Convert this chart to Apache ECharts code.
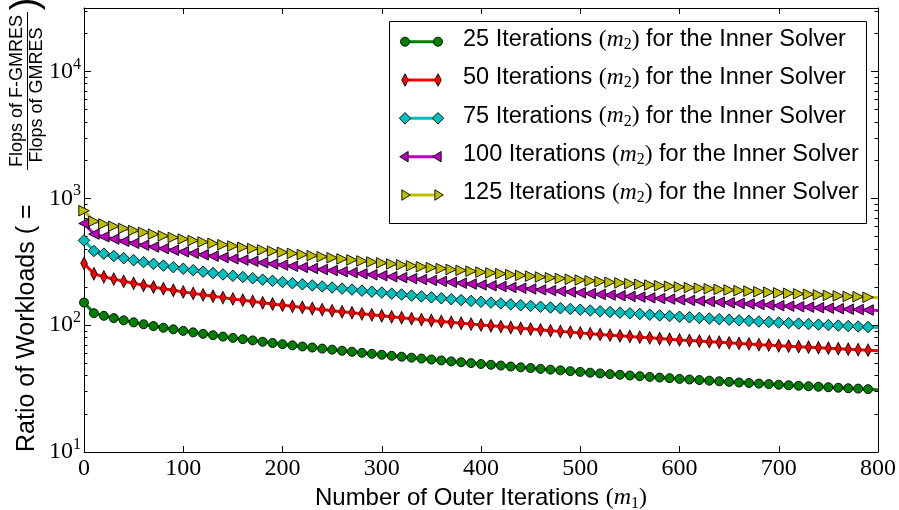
<!DOCTYPE html>
<html>
<head>
<meta charset="utf-8">
<script src="https://cdn.jsdelivr.net/npm/echarts@6/dist/echarts.min.js"></script>
<style>
  html, body { margin: 0; padding: 0; background: #ffffff; }
  #chart { width: 899px; height: 510px; }
</style>
</head>
<body>
<div id="chart"></div>
<script>
// Outer iteration counts (m1) sampled every 10 iterations
const outerIters = [
  0, 10, 20, 30, 40, 50, 60, 70, 80, 90,
  100, 110, 120, 130, 140, 150, 160, 170, 180, 190,
  200, 210, 220, 230, 240, 250, 260, 270, 280, 290,
  300, 310, 320, 330, 340, 350, 360, 370, 380, 390,
  400, 410, 420, 430, 440, 450, 460, 470, 480, 490,
  500, 510, 520, 530, 540, 550, 560, 570, 580, 590,
  600, 610, 620, 630, 640, 650, 660, 670, 680, 690,
  700, 710, 720, 730, 740, 750, 760, 770, 780, 790,
  800
];

// Workload ratio (flops of F-GMRES / flops of GMRES) per inner-iteration count m2
const ratioInner25 = [
  150.7, 124.3, 118.4, 113.6, 109.1, 105.2, 101.6, 98.4, 95.4, 92.7,
  90.1, 87.7, 85.4, 83.3, 81.2, 79.3, 77.5, 75.8, 73.9, 72.3,
  70.8, 69.3, 67.9, 66.6, 65.3, 64.1, 62.8, 61.7, 60.5, 59.4,
  58.4, 57.3, 56.4, 55.4, 54.5, 53.6, 52.7, 51.8, 51.0, 50.2,
  49.4, 48.7, 48.0, 47.2, 46.5, 45.9, 45.2, 44.6, 44.0, 43.4,
  42.8, 42.2, 41.6, 41.1, 40.6, 40.1, 39.6, 39.1, 38.6, 38.2,
  37.7, 37.3, 36.9, 36.5, 36.1, 35.7, 35.3, 35.0, 34.6, 34.3,
  33.9, 33.6, 33.3, 33.0, 32.7, 32.4, 32.1, 31.8, 31.6, 31.3,
  31.0
];
const ratioInner50 = [
  307.0, 254.0, 240.4, 230.6, 221.5, 213.6, 206.2, 199.8, 193.7, 188.2,
  182.9, 178.0, 173.4, 169.1, 164.8, 161.0, 157.3, 153.9, 150.0, 146.8,
  143.7, 140.7, 137.8, 135.2, 132.6, 130.1, 127.5, 125.3, 122.8, 120.6,
  118.6, 116.3, 114.5, 112.5, 110.6, 108.8, 107.0, 105.2, 103.5, 101.9,
  100.3, 98.9, 97.4, 95.8, 94.4, 93.2, 91.8, 90.5, 89.3, 88.1,
  86.9, 85.7, 84.4, 83.4, 82.4, 81.4, 80.4, 79.4, 78.4, 77.5,
  76.5, 75.7, 74.9, 74.1, 73.3, 72.5, 71.7, 71.1, 70.2, 69.6,
  68.8, 68.2, 67.6, 67.0, 66.4, 65.8, 65.2, 64.6, 64.1, 63.5,
  62.9
];
const ratioInner75 = [
  465.7, 384.1, 365.9, 351.0, 337.1, 325.1, 313.9, 304.1, 294.8, 286.4,
  278.4, 271.0, 263.9, 257.4, 250.9, 245.0, 239.5, 234.2, 228.4, 223.4,
  218.8, 214.1, 209.8, 205.8, 201.8, 198.1, 194.1, 190.7, 186.9, 183.5,
  180.5, 177.1, 174.3, 171.2, 168.4, 165.6, 162.8, 160.1, 157.6, 155.1,
  152.6, 150.5, 148.3, 145.8, 143.7, 141.8, 139.7, 137.8, 136.0, 134.1,
  132.3, 130.4, 128.5, 127.0, 125.5, 123.9, 122.4, 120.8, 119.3, 118.0,
  116.5, 115.3, 114.0, 112.8, 111.5, 110.3, 109.1, 108.2, 106.9, 106.0,
  104.8, 103.8, 102.9, 102.0, 101.0, 100.1, 99.2, 98.3, 97.6, 96.7,
  95.8
];
const ratioInner100 = [
  632.9, 522.1, 497.3, 477.1, 458.2, 441.8, 426.7, 413.3, 400.7, 389.3,
  378.4, 368.3, 358.7, 349.9, 341.0, 333.1, 325.5, 318.4, 310.4, 303.7,
  297.4, 291.1, 285.2, 279.7, 274.3, 269.2, 263.8, 259.1, 254.1, 249.5,
  245.3, 240.7, 236.9, 232.7, 228.9, 225.1, 221.3, 217.6, 214.2, 210.8,
  207.5, 204.5, 201.6, 198.2, 195.3, 192.8, 189.8, 187.3, 184.8, 182.3,
  179.8, 177.2, 174.7, 172.6, 170.5, 168.4, 166.3, 164.2, 162.1, 160.4,
  158.3, 156.7, 155.0, 153.3, 151.6, 149.9, 148.3, 147.0, 145.3, 144.1,
  142.4, 141.1, 139.9, 138.6, 137.3, 136.1, 134.8, 133.6, 132.7, 131.5,
  130.2
];
const ratioInner125 = [
  798.7, 658.8, 627.5, 602.1, 578.2, 557.6, 538.5, 521.5, 505.6, 491.3,
  477.5, 464.8, 452.6, 441.5, 430.4, 420.3, 410.8, 401.7, 391.7, 383.2,
  375.2, 367.3, 359.9, 353.0, 346.1, 339.7, 332.8, 327.0, 320.7, 314.8,
  309.5, 303.7, 298.9, 293.6, 288.9, 284.1, 279.3, 274.5, 270.3, 266.1,
  261.8, 258.1, 254.4, 250.2, 246.5, 243.3, 239.6, 236.4, 233.2, 230.0,
  226.8, 223.7, 220.5, 217.8, 215.2, 212.5, 209.9, 207.2, 204.6, 202.5,
  199.8, 197.7, 195.6, 193.5, 191.3, 189.2, 187.1, 185.5, 183.4, 181.8,
  179.7, 178.1, 176.5, 174.9, 173.3, 171.7, 170.1, 168.5, 167.5, 165.9,
  164.3
];

// Inner-solver iteration counts shown in the legend
const innerIterLabels = ['25', '50', '75', '100', '125'];

// Axis ranges and tick labels
const xTicks = [0, 100, 200, 300, 400, 500, 600, 700, 800];
const yDecadeExps = [1, 2, 3, 4];
const yMin = 10;
const yMaxExp = 4.5;

const SANS = '"Liberation Sans", Arial, Helvetica, sans-serif';
const SERIF = '"Liberation Serif", "Times New Roman", serif';

// Minor log ticks (2..9 within each decade), as exponents
const yMinorExps = [];
for (let n = 1; n <= 4; n++) {
  for (let k = 2; k <= 9; k++) {
    const e = Math.log10(k * Math.pow(10, n));
    if (e <= yMaxExp) yMinorExps.push(e);
  }
}

const styles = [
  { color: '#008000', symbol: 'circle',   size: 9,         rotate: 0 },
  { color: '#ff0000', symbol: 'diamond',  size: [6.5, 12.5], rotate: 0 },
  { color: '#00bfbf', symbol: 'diamond',  size: [11.5, 11.5], rotate: 0 },
  { color: '#bf00bf', symbol: 'triangle', size: 10.5,      rotate: 90 },
  { color: '#bfbf00', symbol: 'triangle', size: 10.5,      rotate: -90 }
];
const seriesValues = [ratioInner25, ratioInner50, ratioInner75, ratioInner100, ratioInner125];

const series = seriesValues.map((vals, si) => {
  const st = styles[si];
  return {
    type: 'line',
    name: innerIterLabels[si] + ' Iterations (m2) for the Inner Solver',
    xAxisIndex: 0,
    yAxisIndex: 0,
    data: outerIters.map((x, i) => i === outerIters.length - 1
      ? { value: [x, vals[i]], symbol: 'none' }
      : [x, vals[i]]),
    symbol: st.symbol,
    symbolSize: st.size,
    symbolRotate: st.rotate,
    showAllSymbol: true,
    lineStyle: { color: st.color, width: 3 },
    itemStyle: { color: st.color, borderColor: '#000', borderWidth: 0.9 },
    emphasis: { disabled: true },
    silent: true,
    z: 2 + si
  };
});

// Legend drawn as graphic: short line with a marker at each end, plus label
const legendBox = { x: 389.5, y: 21.5, w: 477, h: 202 };
const legendRowY = [41.7, 80, 118.3, 156.7, 195];
const legendLineX = [405, 438];
const legendTextX = 463;

function markerShape(st, cx, cy) {
  const common = { style: { fill: st.color, stroke: '#000', lineWidth: 0.9 }, z: 101 };
  if (st.symbol === 'circle') {
    return Object.assign({ type: 'circle', shape: { cx: cx, cy: cy, r: st.size / 2 } }, common);
  }
  if (st.symbol === 'diamond') {
    const hw = st.size[0] / 2, hh = st.size[1] / 2;
    return Object.assign({ type: 'polygon', shape: { points: [[cx, cy - hh], [cx + hw, cy], [cx, cy + hh], [cx - hw, cy]] } }, common);
  }
  const r = st.size / 2;
  const pts = st.rotate > 0
    ? [[cx - r, cy], [cx + r * 0.6, cy - r], [cx + r * 0.6, cy + r]]
    : [[cx + r, cy], [cx - r * 0.6, cy - r], [cx - r * 0.6, cy + r]];
  return Object.assign({ type: 'polygon', shape: { points: pts } }, common);
}

function mathRich(size) {
  return {
    t: { fontFamily: SANS, fontSize: size, color: '#000', lineHeight: size + 3 },
    p: { fontFamily: SERIF, fontSize: size, color: '#000', lineHeight: size + 3 },
    m: { fontFamily: SERIF, fontStyle: 'italic', fontSize: size, color: '#000', lineHeight: size + 3 },
    s: { fontFamily: SERIF, fontSize: Math.round(size * 0.66), color: '#000', lineHeight: Math.round(size * 0.66), verticalAlign: 'bottom' }
  };
}

const legendElements = [
  { type: 'rect', shape: { x: legendBox.x, y: legendBox.y, width: legendBox.w, height: legendBox.h },
    style: { fill: '#fff', stroke: '#000', lineWidth: 1 }, z: 100 }
];
legendRowY.forEach((ly, i) => {
  const st = styles[i];
  legendElements.push({ type: 'line', shape: { x1: legendLineX[0], y1: ly, x2: legendLineX[1], y2: ly },
    style: { stroke: st.color, lineWidth: 3 }, z: 100 });
  legendElements.push(markerShape(st, legendLineX[0], ly));
  legendElements.push(markerShape(st, legendLineX[1], ly));
  legendElements.push({ type: 'text', x: legendTextX, y: ly - 2, z: 101,
    style: { text: '{t|' + innerIterLabels[i] + ' Iterations }{p|(}{m|m}{s|2}{p|)}{t| for the Inner Solver}',
      rich: mathRich(23.5), align: 'left', verticalAlign: 'middle' } });
});

// Rotated y-axis title with a stacked fraction
const R90 = Math.PI / 2;
const yTitleElements = [
  { type: 'text', x: 27, y: 452, rotation: R90,
    style: { text: 'Ratio of Workloads ( =', fontFamily: SANS, fontSize: 25, fill: '#000', align: 'left', verticalAlign: 'middle' } },
  { type: 'text', x: 17.5, y: 91, rotation: R90,
    style: { text: 'Flops of F-GMRES', fontFamily: SANS, fontSize: 18, fill: '#000', align: 'center', verticalAlign: 'middle' } },
  { type: 'line', shape: { x1: 27.5, y1: 12, x2: 27.5, y2: 170 }, style: { stroke: '#000', lineWidth: 1 } },
  { type: 'text', x: 37, y: 95, rotation: R90,
    style: { text: 'Flops of GMRES', fontFamily: SANS, fontSize: 18, fill: '#000', align: 'center', verticalAlign: 'middle' } },
  { type: 'text', x: 27, y: 4, rotation: R90,
    style: { text: ')', fontFamily: SANS, fontSize: 38, fill: '#000', align: 'center', verticalAlign: 'middle' } }
];

const frameLine = { show: true, onZero: false, lineStyle: { color: '#000', width: 1 } };

function expAxis(position, ticks, tickLen, withLine, withLabels) {
  return {
    type: 'value', position: position, min: 1, max: yMaxExp,
    axisLine: withLine ? frameLine : { show: false },
    axisTick: { show: true, inside: true, length: tickLen, customValues: ticks, lineStyle: { color: '#000', width: 1 } },
    axisLabel: withLabels ? {
      show: true, customValues: ticks, margin: 3,
      formatter: v => '{a|10}{b|' + v + '}',
      rich: {
        a: { fontFamily: SERIF, fontSize: 24, color: '#000', lineHeight: 30 },
        b: { fontFamily: SERIF, fontSize: 16, color: '#000', lineHeight: 16, verticalAlign: 'top' }
      }
    } : { show: false },
    splitLine: { show: false }
  };
}

const chart = echarts.init(document.getElementById('chart'), null, { renderer: 'canvas' });
chart.setOption({
  animation: false,
  backgroundColor: '#ffffff',
  grid: { left: 84, right: 21, top: 8, bottom: 58, containLabel: false, outerBoundsMode: 'none' },
  xAxis: [
    {
      type: 'value', position: 'bottom', min: xTicks[0], max: xTicks[xTicks.length - 1], interval: 100,
      axisLine: frameLine,
      axisTick: { show: true, inside: true, length: 6, lineStyle: { color: '#000' } },
      axisLabel: { fontFamily: SERIF, fontSize: 24, color: '#000', margin: 5 },
      splitLine: { show: false },
      name: '{t|Number of Outer Iterations }{p|(}{m|m}{s|1}{p|)}',
      nameLocation: 'middle', nameGap: 25,
      nameTextStyle: { rich: mathRich(24) }
    },
    {
      type: 'value', position: 'top', min: xTicks[0], max: xTicks[xTicks.length - 1], interval: 100,
      axisLine: frameLine,
      axisTick: { show: true, inside: true, length: 6, lineStyle: { color: '#000' } },
      axisLabel: { show: false },
      splitLine: { show: false }
    }
  ],
  yAxis: [
    { type: 'log', logBase: 10, min: yMin, max: Math.pow(10, yMaxExp), show: false, position: 'left' },
    expAxis('left', yDecadeExps, 7, true, true),
    expAxis('left', yMinorExps, 3.5, false, false),
    expAxis('right', yDecadeExps, 7, true, false),
    expAxis('right', yMinorExps, 3.5, false, false)
  ],
  series: series,
  graphic: legendElements.concat(yTitleElements)
});
</script>
</body>
</html>
